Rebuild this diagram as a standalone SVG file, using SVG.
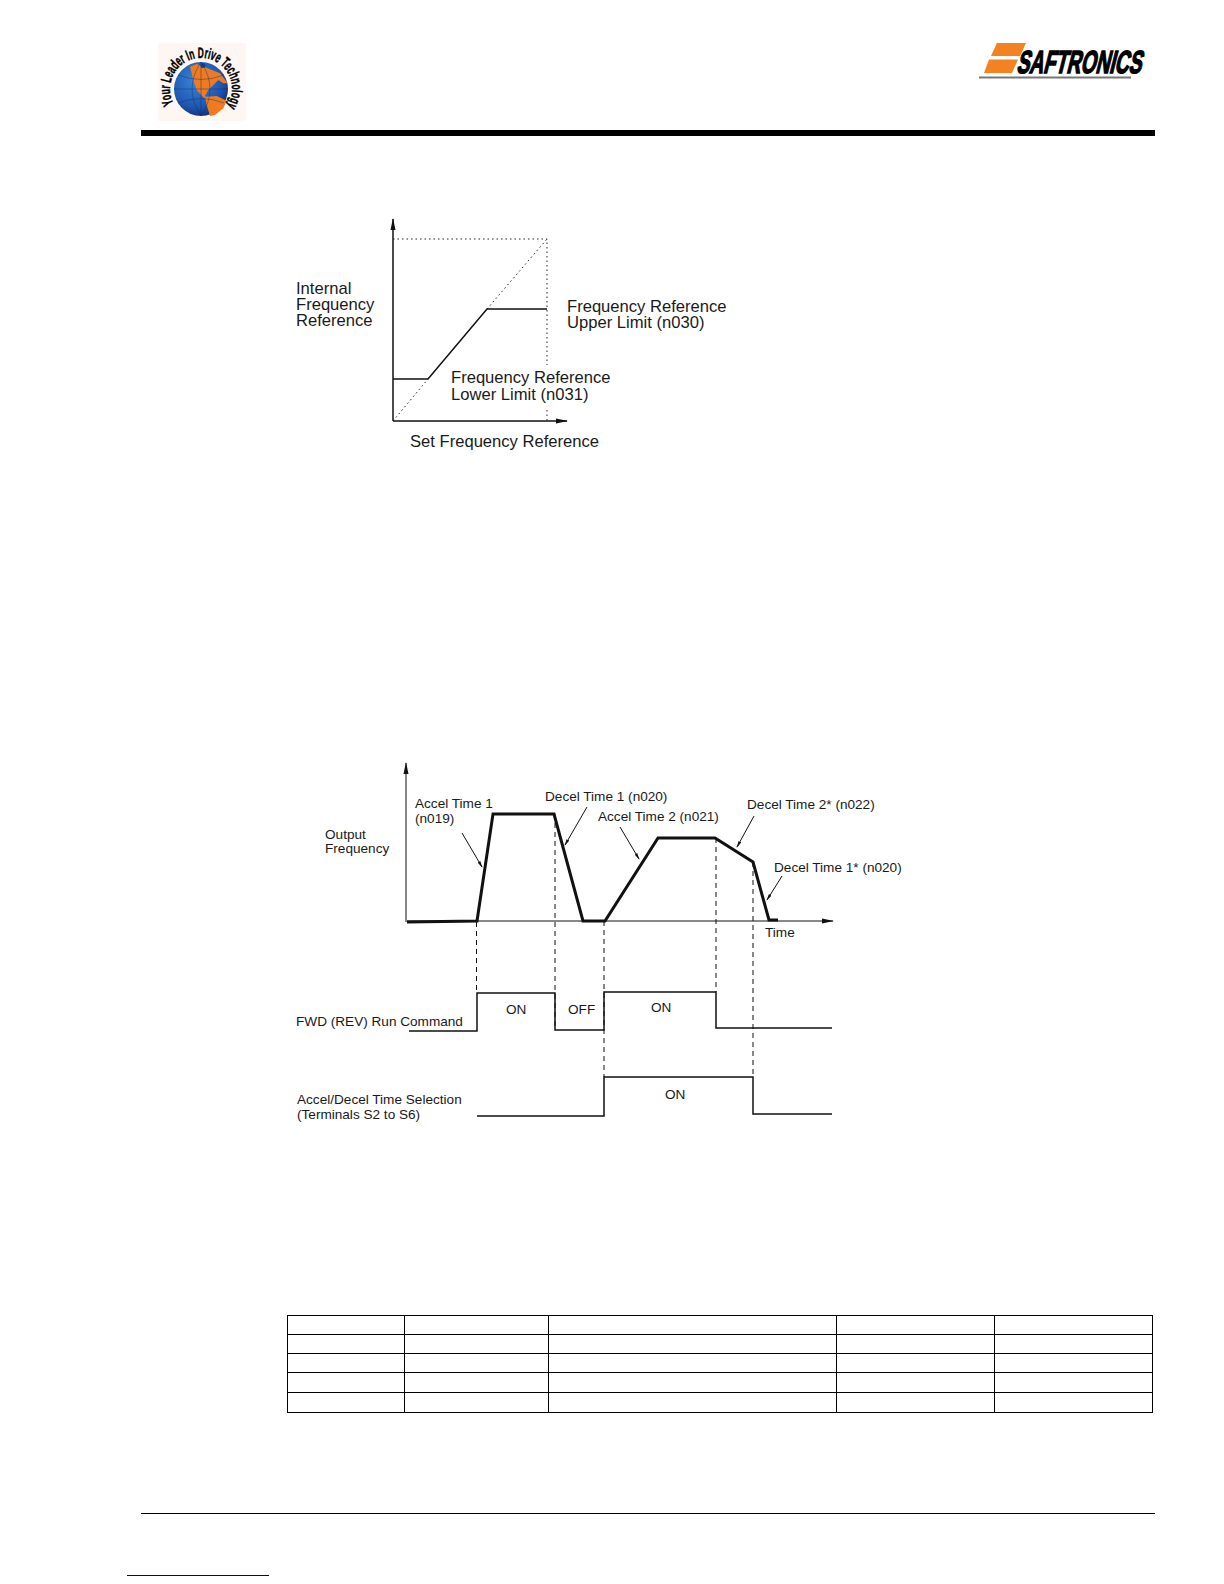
<svg xmlns="http://www.w3.org/2000/svg" width="1224" height="1584" viewBox="0 0 1224 1584">
<style>
text{font-family:"Liberation Sans",Arial,sans-serif;fill:#1a1a1a}
.t16{font-size:16.6px}
.t14{font-size:13.6px}
.thin{fill:none;stroke:#111;stroke-width:1}
.med{fill:none;stroke:#111;stroke-width:1.5}
.thick{fill:none;stroke:#111;stroke-width:3;stroke-linejoin:miter}
.dot{fill:none;stroke:#222;stroke-width:1;stroke-dasharray:1.5 3}
.dash{fill:none;stroke:#111;stroke-width:1;stroke-dasharray:5 4}
.cell{fill:none;stroke:#000;stroke-width:1}
.grid{fill:none;stroke:#0d2a66;stroke-width:.4}
</style>
<defs>
<marker id="head" markerWidth="12" markerHeight="6" refX="11" refY="3" orient="auto" markerUnits="userSpaceOnUse"><path d="M0 0.5L12 3L0 5.500Z" fill="#111"/></marker>
<marker id="tip" markerWidth="7" markerHeight="4" refX="6" refY="2" orient="auto" markerUnits="userSpaceOnUse"><path d="M0 0.5L7 2L0 3.500Z" fill="#111"/></marker>
<radialGradient id="sea" cx="40%" cy="35%" r="70%"><stop offset="0" stop-color="#3a86d8"/><stop offset="0.7" stop-color="#1f55b0"/><stop offset="1" stop-color="#122f70"/></radialGradient>
</defs>
<rect width="1224" height="1584" fill="#fff"/>

<g id="logo-globe">
<rect x="158" y="43" width="88" height="78" fill="#fdf6f2"/>
<circle cx="201" cy="89" r="27" fill="url(#sea)"/>
<path d="M190 66.700L196.700 64L210 69.300L220 73.300L227.700 83.300L223.300 83.300L218.300 80L213.300 85L208.300 90L205 96L208.300 100L203.300 97.300L196.700 90L193.300 80Z" fill="#ee7a22"/>
<path d="M205 96.700L216.700 96L226.700 100.700L223.300 108.300L215 115L210 116L206.700 105Z" fill="#ee7a22"/>
<circle cx="203" cy="65.500" r="2.500" fill="#1c3f90"/>
<path class="grid" d="M201 62V116M201 62Q183 89 201 116M201 62Q219 89 201 116M174 89H228M178 75Q201 84 224 75M178 103Q201 94 224 103"/>
<path id="logo-arc" d="M173.600 103.500A31 31 0 1 1 226.900 106" fill="none"/>
<text font-size="15" font-weight="bold" style='fill:#000;stroke:#000;stroke-width:.45'><textPath href="#logo-arc" textLength="130" lengthAdjust="spacingAndGlyphs">Your Leader In Drive Technology</textPath></text>
</g>

<g id="logo-saftronics">
<path d="M997 43L1026 43L1020 56L991 56Z M989 59.500L1018 59.500L1012 73L984 73Z" fill="#f58220"/>
<text transform="translate(1016 73) skewX(-14) scale(.6 1)" x="0" y="0" font-size="32" font-weight="bold" style='fill:#000;stroke:#000;stroke-width:1.500'>SAFTRONICS</text>
<rect x="979" y="76.500" width="152" height="2" fill="#777"/>
</g>

<g id="header-rule"><rect x="141" y="130" width="1014" height="6" fill="#000"/></g>

<g id="chart-limits">
<g class="connectors">
<path class="med" d="M393 421V219" marker-end="url(#head)"/>
<path class="med" d="M393 421H567" marker-end="url(#head)"/>
<path class="dot" d="M393 239H547V365M547 410V421M393 421L428 379M487 309L547 239"/>
<path class="med" d="M393 379H428L487 309H547"/>
</g>
<text class="t16"><tspan x="296" y="294">Internal</tspan><tspan x="296" y="310">Frequency</tspan><tspan x="296" y="326">Reference</tspan></text>
<text class="t16"><tspan x="567" y="312">Frequency Reference</tspan><tspan x="567" y="328">Upper Limit (n030)</tspan></text>
<text class="t16"><tspan x="451" y="383">Frequency Reference</tspan><tspan x="451" y="400">Lower Limit (n031)</tspan></text>
<text class="t16" x="410" y="447">Set Frequency Reference</text>
</g>

<g id="chart-timing">
<g id="connectors">
<path class="thin" d="M406 922V763" marker-end="url(#head)"/>
<path class="thin" d="M407 921H833" marker-end="url(#head)"/>
<path class="thick" d="M407 922L477 921L493 814H554L583 921H605L658 838H715L753 862L769 920H778"/>
<path class="dash" d="M476.500 922V993M555 814V1030M604 921V1077M716 838V992M753 862V1077"/>
<path class="thin" d="M462 833L482 867" marker-end="url(#tip)"/>
<path class="thin" d="M587 807L565 845" marker-end="url(#tip)"/>
<path class="thin" d="M620 827L639 859" marker-end="url(#tip)"/>
<path class="thin" d="M754 816L737 847" marker-end="url(#tip)"/>
<path class="thin" d="M782 876L767 900" marker-end="url(#tip)"/>
<path class="med" d="M409 1031H477V993H555V1030H604V992H716V1028H832"/>
<path class="med" d="M477 1116H604V1077H753V1114H832"/>
</g>
<text class="t14"><tspan x="415" y="808">Accel Time 1</tspan><tspan x="415" y="823">(n019)</tspan></text>
<text class="t14"><tspan x="325" y="839">Output</tspan><tspan x="325" y="853">Frequency</tspan></text>
<text class="t14" x="545" y="801">Decel Time 1 (n020)</text>
<text class="t14" x="598" y="821">Accel Time 2 (n021)</text>
<text class="t14" x="747" y="809">Decel Time 2* (n022)</text>
<text class="t14" x="774" y="872">Decel Time 1* (n020)</text>
<text class="t14" x="765" y="937">Time</text>
<text class="t14" x="296" y="1026">FWD (REV) Run Command</text>
<text class="t14" x="506" y="1014">ON</text>
<text class="t14" x="568" y="1014">OFF</text>
<text class="t14" x="651" y="1012">ON</text>
<text class="t14" x="665" y="1099">ON</text>
<text class="t14"><tspan x="297" y="1104">Accel/Decel Time Selection</tspan><tspan x="297" y="1119">(Terminals S2 to S6)</tspan></text>
</g>

<g id="table">
<rect class="cell" x="287.500" y="1315.500" width="865" height="97"/>
<path class="cell" d="M287 1334.500H1153M287 1353.500H1153M287 1372.500H1153M287 1392.500H1153M404.500 1315V1413M548.500 1315V1413M836.500 1315V1413M994.500 1315V1413"/>
</g>

<g id="footer">
<rect x="141" y="1513" width="1014" height="1" fill="#000"/>
<rect x="127" y="1575" width="142" height="1" fill="#000080"/>
</g>
</svg>
